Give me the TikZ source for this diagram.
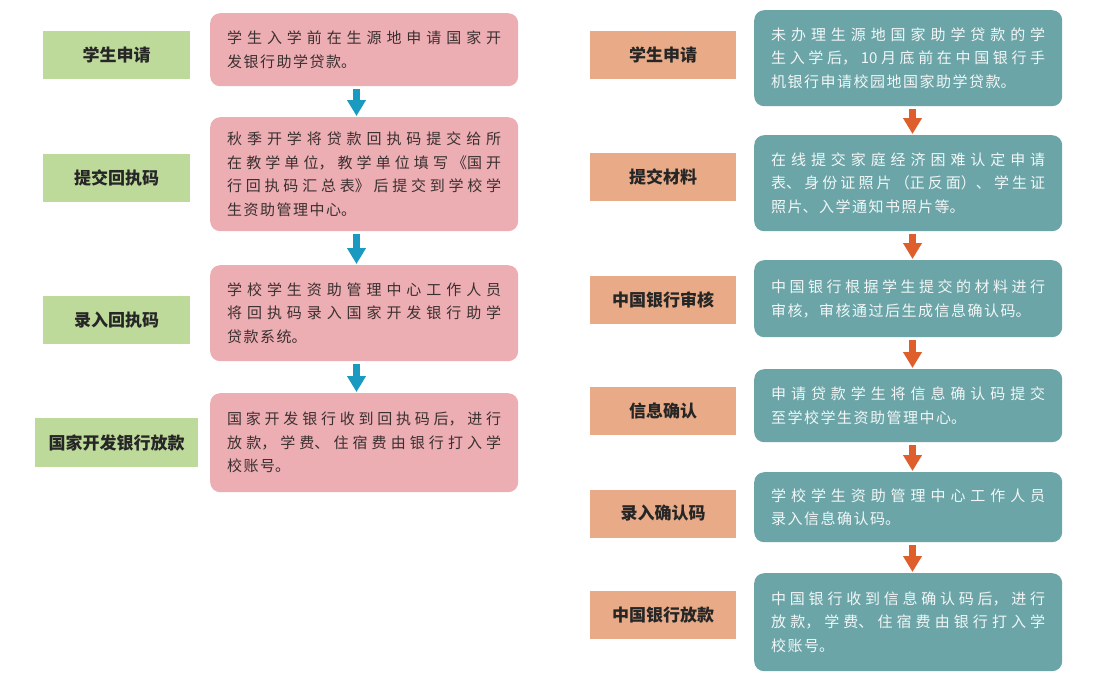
\documentclass[tikz,border=0pt]{standalone}
\usepackage{fontspec}
\usetikzlibrary{arrows.meta}
\newfontfamily\cjk{Noto Sans CJK SC}
\XeTeXlinebreaklocale "zh"
\XeTeXlinebreakskip=1.5pt plus 8pt
\definecolor{lblgreen}{RGB}{189,218,155}
\definecolor{boxpink}{RGB}{236,173,179}
\definecolor{boxteal}{RGB}{107,165,168}
\definecolor{lblorange}{RGB}{233,171,135}
\definecolor{arrblue}{RGB}{26,154,192}
\definecolor{arrorange}{RGB}{222,94,44}
\definecolor{txtdark}{RGB}{58,48,48}
\definecolor{txtlight}{RGB}{242,246,246}
\begin{document}
\begin{tikzpicture}[x=1pt,y=-1pt,
  lbl/.style={rectangle, minimum width=147pt, minimum height=48pt, inner sep=0pt,
    font=\cjk\bfseries\fontsize{17}{20}\selectfont, text=black!85},
  desc/.style={rectangle, rounded corners=10pt, anchor=north west, text width=274pt,
    inner xsep=17pt, inner ysep=4pt, align=justify,
    font=\cjk\fontsize{15}{23.5}\selectfont},
  pinkbox/.style={desc, fill=boxpink, text=txtdark},
  tealbox/.style={desc, fill=boxteal, text=txtlight},
  flowblue/.style={line width=7pt, draw=arrblue, -{Triangle[width=18pt,length=16pt]}, shorten <=3pt, shorten >=1pt},
  floworange/.style={line width=7pt, draw=arrorange, -{Triangle[width=18pt,length=16pt]}, shorten <=3pt, shorten >=1pt}
]
\useasboundingbox (0,0) rectangle (1097,685);
\fill[white] (0,0) rectangle (1097,685);

% ---------- left column ----------
\node[lbl, fill=lblgreen] (g1) at (116.5,55) {学生申请};
\node[lbl, fill=lblgreen] (g2) at (116.5,178) {提交回执码};
\node[lbl, fill=lblgreen] (g3) at (116.5,320) {录入回执码};
\node[lbl, fill=lblgreen, minimum width=163pt, minimum height=49pt] (g4) at (116.5,442.5) {国家开发银行放款};

\node[pinkbox, minimum height=73pt] (p1) at (210,13)
  {学生入学前在生源地申请国家开\linebreak 发银行助学贷款。};
\node[pinkbox, minimum height=114pt] (p2) at (210,117)
  {秋季开学将贷款回执码提交给所\linebreak 在教学单位，教学单位填写《国开\linebreak 行回执码汇总表》后提交到学校学\linebreak 生资助管理中心。};
\node[pinkbox, minimum height=96pt] (p3) at (210,265)
  {学校学生资助管理中心工作人员\linebreak 将回执码录入国家开发银行助学\linebreak 贷款系统。};
\node[pinkbox, minimum height=99pt] (p4) at (210,393)
  {国家开发银行收到回执码后，进行\linebreak 放款，学费、住宿费由银行打入学\linebreak 校账号。};

\coordinate (LA) at (356.5,0);
\draw[flowblue] (p1.south -| LA) -- (p2.north -| LA);
\draw[flowblue] (p2.south -| LA) -- (p3.north -| LA);
\draw[flowblue] (p3.south -| LA) -- (p4.north -| LA);

% ---------- right column ----------
\node[lbl, fill=lblorange, minimum width=146pt] (o1) at (663,55) {学生申请};
\node[lbl, fill=lblorange, minimum width=146pt] (o2) at (663,176.5) {提交材料};
\node[lbl, fill=lblorange, minimum width=146pt] (o3) at (663,299.5) {中国银行审核};
\node[lbl, fill=lblorange, minimum width=146pt] (o4) at (663,410.5) {信息确认};
\node[lbl, fill=lblorange, minimum width=146pt] (o5) at (663,513.5) {录入确认码};
\node[lbl, fill=lblorange, minimum width=146pt] (o6) at (663,615) {中国银行放款};

\node[tealbox, minimum height=96pt] (t1) at (754,10)
  {未办理生源地国家助学贷款的学\linebreak 生入学后，10月底前在中国银行手\linebreak 机银行申请校园地国家助学贷款。};
\node[tealbox, minimum height=96pt] (t2) at (754,135)
  {在线提交家庭经济困难认定申请\linebreak 表、身份证照片（正反面）、学生证\linebreak 照片、入学通知书照片等。};
\node[tealbox, minimum height=77pt] (t3) at (754,260)
  {中国银行根据学生提交的材料进行\linebreak 审核，审核通过后生成信息确认码。};
\node[tealbox, minimum height=73pt] (t4) at (754,369)
  {申请贷款学生将信息确认码提交\linebreak 至学校学生资助管理中心。};
\node[tealbox, minimum height=70pt] (t5) at (754,472)
  {学校学生资助管理中心工作人员\linebreak 录入信息确认码。};
\node[tealbox, minimum height=98pt] (t6) at (754,573)
  {中国银行收到信息确认码后，进行\linebreak 放款，学费、住宿费由银行打入学\linebreak 校账号。};

\coordinate (RA) at (912.5,0);
\draw[floworange] (t1.south -| RA) -- (t2.north -| RA);
\draw[floworange] (t2.south -| RA) -- (t3.north -| RA);
\draw[floworange] (t3.south -| RA) -- (t4.north -| RA);
\draw[floworange] (t4.south -| RA) -- (t5.north -| RA);
\draw[floworange] (t5.south -| RA) -- (t6.north -| RA);
\end{tikzpicture}
\end{document}
